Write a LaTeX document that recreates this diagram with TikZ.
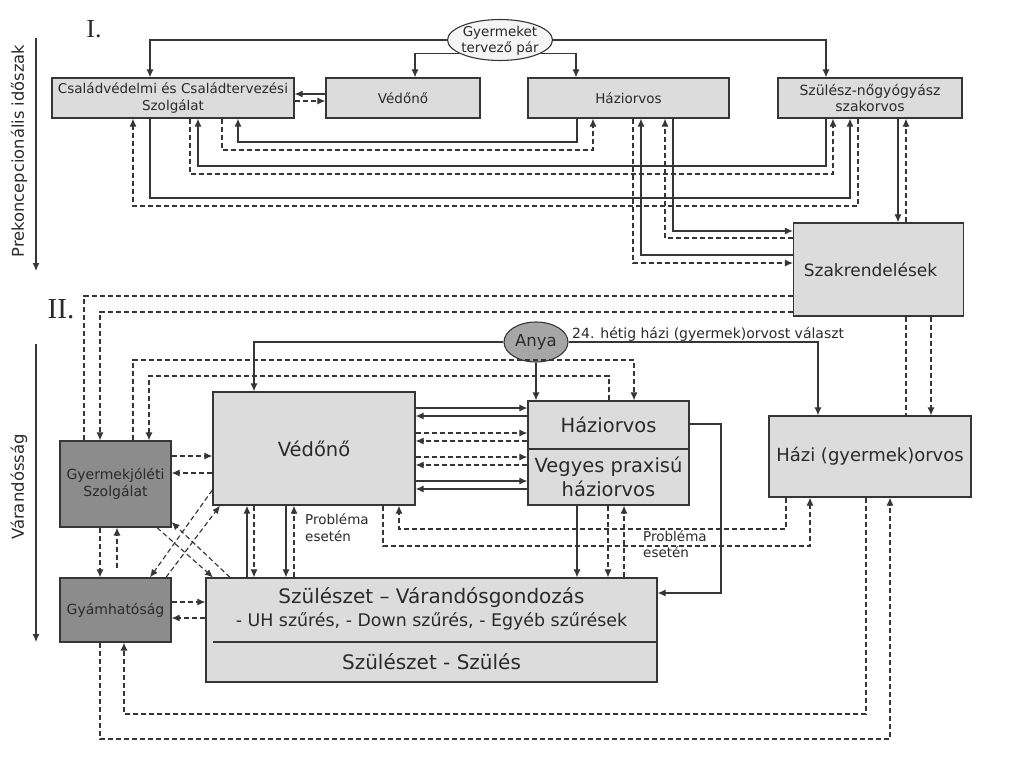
\documentclass[tikz,border=0pt]{standalone}
\usepackage{fontspec}
\setsansfont{DejaVu Sans}
\newfontfamily\romaiszam{Liberation Serif}
\usetikzlibrary{arrows.meta,shapes.geometric}
\definecolor{dobozszin}{HTML}{DCDCDC}
\definecolor{sotetszin}{HTML}{8C8C8C}
\definecolor{anyaszin}{HTML}{A6A6A6}
\definecolor{vonalszin}{HTML}{363636}
\definecolor{betuszin}{HTML}{2A2A2A}
\newcommand{\fsz}[2]{\fontsize{#1}{#2}\selectfont}
\tikzset{
  doboz/.style={rectangle, draw=vonalszin, fill=dobozszin, line width=1.2pt, inner sep=0pt, align=center, text=betuszin},
  sotet/.style={doboz, fill=sotetszin},
  felirat/.style={inner sep=0pt, text=betuszin, font=\sffamily\fsz{13.5}{16.5}},
  nyil/.style={draw=vonalszin, line width=1.15pt, ->},
  szagg/.style={nyil, dash pattern=on 5pt off 3pt},
  szaggv/.style={draw=vonalszin, line width=1.15pt, dash pattern=on 5pt off 3pt},
}
\begin{document}
\begin{tikzpicture}[x=1pt,y=-1pt,>={Latex[length=8pt,width=7pt]}]
\useasboundingbox (0,0) rectangle (1024,757);
% idoszakok
\coordinate (e1) at (36,38);
\coordinate (e2) at (36,271);
\coordinate (m1) at (36,344);
\coordinate (m2) at (36,642);
\draw[nyil] (e1)--(e2);
\draw[nyil] (m1)--(m2);
\node[felirat, rotate=90, font=\sffamily\fsz{16.3}{18}] (prek) at (19,151) {Prekoncepcionális időszak};
\node[felirat, rotate=90, font=\sffamily\fsz{16.5}{18}] (varand) at (19,487) {Várandósság};
\node[inner sep=0pt, text=betuszin, font=\romaiszam\fsz{26}{26}] (egy) at (94,29) {I.};
\node[inner sep=0pt, text=betuszin, font=\romaiszam\fsz{29}{29}] (ketto) at (61,309) {II.};
% I. doboz sor
\node[ellipse, draw=vonalszin, fill=black!4, line width=1.1pt, minimum width=105pt, minimum height=41pt, inner sep=0pt] (par) at (500,40) {};
\node[felirat, align=center, font=\sffamily\fsz{13.5}{16}] (partext) at (500,41) {Gyermeket\\tervező pár};
\node[doboz, minimum width=242pt, minimum height=40pt, font=\sffamily\fsz{13.5}{17}] (csts) at (173,98) {Családvédelmi és Családtervezési\\Szolgálat};
\node[doboz, minimum width=154pt, minimum height=40pt, font=\sffamily\fsz{13.5}{17}] (vedoA) at (403,98) {Védőnő};
\node[doboz, minimum width=201pt, minimum height=40pt, font=\sffamily\fsz{13.5}{17}] (haziA) at (628.5,98) {Háziorvos};
\node[doboz, minimum width=184pt, minimum height=40pt, font=\sffamily\fsz{14}{17}] (szulA) at (870,98) {Szülész-nőgyógyász\\szakorvos};
\node[doboz, minimum width=170pt, minimum height=93pt, font=\sffamily\fsz{17}{20}] (szak) at (878.5,269.5) {\hspace*{-16pt}Szakrendelések};
% II. doboz sor
\node[ellipse, draw=vonalszin, fill=anyaszin, line width=1.1pt, minimum width=64pt, minimum height=40pt, inner sep=0pt, text=betuszin, font=\sffamily\fsz{16.5}{18}] (anya) at (536,342) {Anya};
\node[felirat, anchor=base west, font=\sffamily\fsz{14}{16}] (het) at (572,338) {24. hétig házi (gyermek)orvost választ};
\node[doboz, minimum width=202pt, minimum height=113pt, font=\sffamily\fsz{19.5}{22}] (vedoB) at (314,448.5) {Védőnő};
\node[doboz, minimum width=161pt, minimum height=48pt, font=\sffamily\fsz{19.5}{22}] (haziB) at (608.5,425) {Háziorvos};
\node[doboz, minimum width=161pt, minimum height=56pt, font=\sffamily\fsz{19.5}{24}] (vegyes) at (608.5,477) {Vegyes praxisú\\háziorvos};
\node[doboz, minimum width=202pt, minimum height=81pt, font=\sffamily\fsz{18}{20}] (hgyo) at (870,456.5) {Házi (gyermek)orvos};
\node[sotet, minimum width=111pt, minimum height=86pt, font=\sffamily\fsz{14}{17}] (gyj) at (115.5,484) {Gyermekjóléti\\Szolgálat};
\node[sotet, minimum width=111pt, minimum height=64pt, font=\sffamily\fsz{14}{17}] (gyam) at (115.5,610) {Gyámhatóság};
\node[doboz, minimum width=451pt, minimum height=104pt] (szulB) at (431.5,630) {};
\draw[vonalszin, line width=1.1pt] (213,642) -- (szulB.east |- 0,642);
\node[felirat, font=\sffamily\fsz{20}{22}] (gond) at (431.5,598) {Szülészet – Várandósgondozás};
\node[felirat, font=\sffamily\fsz{17.4}{19}] (szuro) at (431.5,621) {- UH szűrés, - Down szűrés, - Egyéb szűrések};
\node[felirat, font=\sffamily\fsz{20}{22}] (szules) at (431.5,662) {Szülészet - Szülés};
\node[felirat, anchor=north west, align=left, font=\sffamily\fsz{13.5}{17}] (prob1) at (305,513) {Probléma\\esetén};
\node[felirat, anchor=north west, align=left, font=\sffamily\fsz{13.5}{16}] (prob2) at (643,530) {Probléma\\esetén};
% I. kapcsolatok
\draw[nyil] (par.west) -| (csts.north -| 150,0);
\draw[nyil] (par.198) -| (vedoA.north -| 415,0);
\draw[nyil] (par.east) -| (szulA.north -| 826,0);
\draw[nyil] (par.-18) -| (haziA.north -| 576,0);
\draw[nyil] (vedoA.west |- 0,94) -- (csts.east |- 0,94);
\draw[szagg] (csts.east |- 0,101) -- (vedoA.west |- 0,101);
\draw[szagg] (szulA.south -| 858,0) |- (133,206) -- (csts.south -| 133,0);
\draw[nyil] (csts.south -| 150,0) |- (850,198) -- (szulA.south -| 850,0);
\draw[szagg] (csts.south -| 190,0) |- (833,174) -- (szulA.south -| 833,0);
\draw[nyil] (szulA.south -| 826,0) |- (198,166) -- (csts.south -| 198,0);
\draw[szagg] (csts.south -| 222,0) |- (593,150) -- (haziA.south -| 593,0);
\draw[nyil] (haziA.south -| 577,0) |- (238,142) -- (csts.south -| 238,0);
\draw[szagg] (haziA.south -| 633,0) |- (szak.west |- 0,263);
\draw[nyil] (szak.west |- 0,255) -| (haziA.south -| 641,0);
\draw[szagg] (szak.west |- 0,238) -| (haziA.south -| 665,0);
\draw[nyil] (haziA.south -| 673,0) |- (szak.west |- 0,231);
\draw[nyil] (szulA.south -| 898,0) -- (szak.north -| 898,0);
\draw[szagg] (szak.north -| 906,0) -- (szulA.south -| 906,0);
% szakrendelesek
\draw[szaggv] (szak.west |- 0,296) -| (gyj.north -| 84,0);
\draw[szagg] (szak.west |- 0,312) -| (gyj.north -| 100,0);
\draw[szaggv] (szak.south -| 906,0) -- (hgyo.north -| 906,0);
\draw[szagg] (szak.south -| 931,0) -- (hgyo.north -| 931,0);
% II. kapcsolatok
\draw[nyil] (anya.west) -| (vedoB.north -| 254,0);
\draw[nyil] (anya.south) -- (haziB.north -| anya.south);
\draw[nyil] (anya.east) -| (hgyo.north -| 818,0);
\draw[szagg] (gyj.north -| 133,0) |- (634,360) -- (haziB.north -| 634,0);
\draw[szagg] (haziB.north -| 609,0) |- (149,376) -- (gyj.north -| 149,0);
\foreach \y/\s in {408/nyil,433/szagg,457/szagg,481/nyil}{
  \draw[\s] (vedoB.east |- 0,\y) -- (haziB.west |- 0,\y);
  \draw[\s] (haziB.west |- 0,\y+8) -- (vedoB.east |- 0,\y+8);
}
\draw[szagg] (gyj.east |- 0,456) -- (vedoB.west |- 0,456);
\draw[szagg] (vedoB.west |- 0,473) -- (gyj.east |- 0,473);
\draw[szagg] (gyam.east |- 0,602) -- (szulB.west |- 0,602);
\draw[szagg] (szulB.west |- 0,618) -- (gyam.east |- 0,618);
\draw[szagg] (gyj.south -| 100,0) -- (gyam.north -| 100,0);
\draw[szagg] ([yshift=9pt]gyam.north -| 117,0) -- (gyj.south -| 117,0);
\draw[szagg] (vedoB.west |- 0,490) -- (gyam.north -| 150,0);
\draw[szagg] (gyam.north -| 166,0) -- (vedoB.south -| 220,0);
\draw[szagg] (gyj.south -| 157,0) -- (szulB.north -| 213,0);
\draw[szagg] (szulB.north -| 230,0) -- (gyj.east |- 0,522);
\draw[nyil] (szulB.north -| 247,0) -- (vedoB.south -| 247,0);
\draw[szagg] (vedoB.south -| 254,0) -- (szulB.north -| 254,0);
\draw[nyil] (vedoB.south -| 286,0) -- (szulB.north -| 286,0);
\draw[szagg] (szulB.north -| 294,0) -- (vedoB.south -| 294,0);
\draw[szagg] (hgyo.south -| 786,0) |- (399,529) -- (vedoB.south -| 399,0);
\draw[szagg] (vedoB.south -| 383,0) |- (810,546) -- (hgyo.south -| 810,0);
\draw[nyil] (vegyes.south -| 577,0) -- (szulB.north -| 577,0);
\draw[szagg] (vegyes.south -| 608,0) -- (szulB.north -| 608,0);
\draw[szagg] (szulB.north -| 624,0) -- (vegyes.south -| 624,0);
\draw[nyil] (haziB.east |- 0,424) -| (721,593) -- (szulB.east |- 0,593);
\draw[szagg] (hgyo.south -| 866,0) |- (124,714) -- (gyam.south -| 124,0);
\draw[szagg] (gyam.south -| 100,0) |- (890,739) -- (hgyo.south -| 890,0);
\end{tikzpicture}
\end{document}
